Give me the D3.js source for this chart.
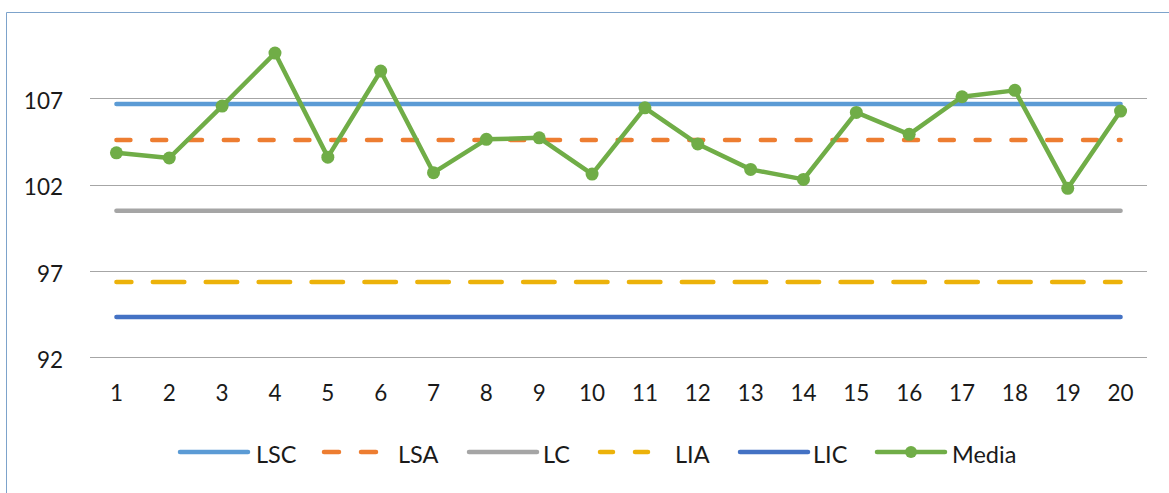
<!DOCTYPE html>
<html>
<head>
<meta charset="utf-8">
<script src="https://cdn.jsdelivr.net/npm/d3@7"></script>
<style>
  html, body { margin: 0; padding: 0; background: #ffffff; }
  svg { display: block; }
  text { font-family: Lato, "Open Sans", sans-serif; fill: #1a1a1a; }
</style>
</head>
<body>
<svg id="chart" width="1169" height="493"></svg>
<script>
// Samples (x axis)
const categories = [1, 2, 3, 4, 5, 6, 7, 8, 9, 10, 11, 12, 13, 14, 15, 16, 17, 18, 19, 20];

// Sample means
const media = [103.85, 103.55, 106.56, 109.63, 103.6, 108.59, 102.7, 104.63, 104.72, 102.62,
               106.46, 104.36, 102.89, 102.31, 106.19, 104.92, 107.1, 107.47, 101.79, 106.27];

// Control and warning limits
const limitNames  = ["LSC", "LSA", "LC", "LIA", "LIC"];
const limitValues = [106.68, 104.6, 100.5, 96.37, 94.33];

// Y axis ticks
const yTicks = [92, 97, 102, 107];

const limitStyle = {
  LSC: { color: "#5b9bd5", dash: null },
  LSA: { color: "#ed7d31", dash: "14,21.8", offset: 0 },
  LC:  { color: "#a5a5a5", dash: null },
  LIA: { color: "#ecb20a", dash: "31.5,21.4", offset: 16.5 },
  LIC: { color: "#4472c4", dash: null }
};
const mediaColor = "#70ad47";

const svg = d3.select("#chart");

// Outer frame (top and left edges visible)
svg.append("path")
  .attr("d", "M6.5,493 L6.5,12.5 L1169,12.5")
  .attr("fill", "none")
  .attr("stroke", "#7da3cb")
  .attr("stroke-width", 1);

const x = d3.scaleBand().domain(categories).range([90, 1147]).padding(0);
const cx = d => x(d) + x.bandwidth() / 2;
const y = d3.scaleLinear().domain([92, 112]).range([357.3, 12.2]);

// Horizontal gridlines
svg.append("g")
  .selectAll("line")
  .data(yTicks)
  .join("line")
  .attr("x1", 90).attr("x2", 1147)
  .attr("y1", d => Math.round(y(d)) + 0.5)
  .attr("y2", d => Math.round(y(d)) + 0.5)
  .attr("stroke", "#a6a6a6")
  .attr("stroke-width", 1);

// Y axis labels
const yAxis = svg.append("g")
  .attr("transform", "translate(63,0)")
  .call(d3.axisLeft(y).tickValues(yTicks).tickSize(0).tickPadding(0).tickFormat(d3.format("d")));
yAxis.select(".domain").remove();
yAxis.selectAll("text")
  .attr("font-size", 22.5)
  .attr("dy", "0.45em")
  .attr("fill", "#1a1a1a")
  .style("font-family", "Lato, 'Open Sans', sans-serif");

// X axis labels
const xAxis = svg.append("g")
  .attr("transform", "translate(0,379)")
  .call(d3.axisBottom(x).tickSize(0).tickPadding(0));
xAxis.select(".domain").remove();
xAxis.selectAll("text")
  .attr("font-size", 22.5)
  .attr("dy", "0.71em")
  .attr("y", 6)
  .attr("fill", "#1a1a1a")
  .style("font-family", "Lato, 'Open Sans', sans-serif");

// Limit lines
const first = categories[0], last = categories[categories.length - 1];
const limitLine = d3.line().x(d => cx(d[0])).y(d => y(d[1]));
limitNames.forEach((name, i) => {
  const st = limitStyle[name];
  const p = svg.append("path")
    .datum([[first, limitValues[i]], [last, limitValues[i]]])
    .attr("d", limitLine)
    .attr("fill", "none")
    .attr("stroke", st.color)
    .attr("stroke-width", 4.5)
    .attr("stroke-linecap", "round");
  if (st.dash) p.attr("stroke-dasharray", st.dash).attr("stroke-dashoffset", st.offset);
});

// Sample means series
const mediaLine = d3.line().x((d, i) => cx(categories[i])).y(d => y(d));
svg.append("path")
  .datum(media)
  .attr("d", mediaLine)
  .attr("fill", "none")
  .attr("stroke", mediaColor)
  .attr("stroke-width", 4.5)
  .attr("stroke-linejoin", "round");
svg.append("g")
  .selectAll("circle")
  .data(media)
  .join("circle")
  .attr("cx", (d, i) => cx(categories[i]))
  .attr("cy", d => y(d))
  .attr("r", 6.5)
  .attr("fill", mediaColor);

// Legend
const legendItems = [
  { name: "LSC",   x0: 180, color: limitStyle.LSC.color, dash: null },
  { name: "LSA",   x0: 324, color: limitStyle.LSA.color, dash: "15,22" },
  { name: "LC",    x0: 469, color: limitStyle.LC.color,  dash: null },
  { name: "LIA",   x0: 600, color: limitStyle.LIA.color, dash: "13,22" },
  { name: "LIC",   x0: 740, color: limitStyle.LIC.color, dash: null },
  { name: "Media", x0: 877, color: mediaColor,           dash: null, marker: true }
];
const legendY = 452;
const lg = svg.append("g");
legendItems.forEach(it => {
  const len = it.dash ? (it.name === "LSA" ? 52 : 51) : 68;
  const l = lg.append("line")
    .attr("x1", it.x0).attr("x2", it.x0 + len)
    .attr("y1", legendY).attr("y2", legendY)
    .attr("stroke", it.color)
    .attr("stroke-width", 4.5)
    .attr("stroke-linecap", "round");
  if (it.dash) l.attr("stroke-dasharray", it.dash);
  if (it.marker) {
    lg.append("circle").attr("cx", it.x0 + 34).attr("cy", legendY).attr("r", 6).attr("fill", it.color);
  }
  const textX = { LSC: 256, LSA: 398, LC: 543, LIA: 675, LIC: 813, Media: 952 }[it.name];
  lg.append("text")
    .attr("x", textX)
    .attr("y", 463.3)
    .attr("font-size", 23.5)
    .text(it.name);
});
</script>
</body>
</html>
